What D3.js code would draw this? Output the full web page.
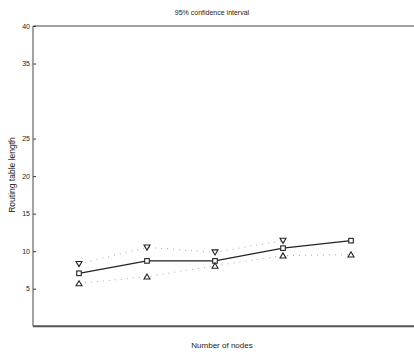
<!DOCTYPE html>
<html>
<head>
<meta charset="utf-8">
<script src="https://cdn.jsdelivr.net/npm/d3@7"></script>
<style>
  body { margin: 0; background: #fff; }
  text { font-family: "Liberation Sans", Arial, sans-serif; fill: #222; }
</style>
</head>
<body>
<svg id="chart" width="414" height="354"></svg>
<script>
// data
const nodes = [1, 2, 3, 4, 5];
const meanLen = [7.05, 8.7, 8.7, 10.4, 11.4];
const upperLen = [8.3, 10.5, 9.85, 11.4, null];
const lowerLen = [5.7, 6.6, 8.05, 9.4, 9.55];
const yTicks = [5, 10, 15, 20, 25, 35, 40];

const svg = d3.select("#chart");
const margin = { top: 24, right: 0, bottom: 28, left: 33 };
const width = 414;
const height = 354;

const x = d3.scaleLinear().domain([1, 5]).range([79, 351]);
const y = d3.scaleLinear().domain([0, 40]).range([height - margin.bottom + 0.2, margin.top + 2]);

// axes
const yAxis = d3.axisLeft(y).tickValues(yTicks).tickSize(-3).tickPadding(3);
const gy = svg.append("g")
  .attr("transform", `translate(${margin.left},0)`)
  .call(yAxis);
gy.select(".domain").remove();
gy.selectAll(".tick line").attr("stroke", "#333");
gy.selectAll(".tick text").style("font-size", "7px").attr("fill", "#333");

svg.append("line")
  .attr("x1", margin.left).attr("x2", margin.left)
  .attr("y1", y(40)).attr("y2", y(0))
  .attr("stroke", "#666").attr("stroke-width", 1.2);

svg.append("line")
  .attr("x1", margin.left).attr("x2", width)
  .attr("y1", y(0)).attr("y2", y(0))
  .attr("stroke", "#555").attr("stroke-width", 2);

svg.append("line")
  .attr("x1", margin.left).attr("x2", width)
  .attr("y1", y(40)).attr("y2", y(40))
  .attr("stroke", "#444").attr("stroke-width", 1);

// dotted bounds
const dotted = d3.line()
  .defined((d) => d[1] != null)
  .x((d) => x(d[0]))
  .y((d) => y(d[1]));

[upperLen, lowerLen].forEach((arr) => {
  svg.append("path")
    .datum(nodes.map((n, i) => [n, arr[i]]))
    .attr("d", dotted)
    .attr("fill", "none")
    .attr("stroke", "#aaa")
    .attr("stroke-width", 1)
    .attr("stroke-dasharray", "1,5");
});

// mean line
svg.append("path")
  .datum(nodes.map((n, i) => [n, meanLen[i]]))
  .attr("d", dotted)
  .attr("fill", "none")
  .attr("stroke", "#222")
  .attr("stroke-width", 1.3);

// markers
svg.append("g")
  .selectAll("rect")
  .data(nodes.map((n, i) => [n, meanLen[i]]))
  .join("rect")
  .attr("x", (d) => x(d[0]) - 2.3)
  .attr("y", (d) => y(d[1]) - 2.3)
  .attr("width", 4.6)
  .attr("height", 4.6)
  .attr("fill", "#fff")
  .attr("stroke", "#222")
  .attr("stroke-width", 1.1);

const tri = (cx, cy, down) => {
  const s = 3;
  return down
    ? `M${cx - s},${cy - s * 0.8}L${cx + s},${cy - s * 0.8}L${cx},${cy + s * 0.9}Z`
    : `M${cx - s},${cy + s * 0.8}L${cx + s},${cy + s * 0.8}L${cx},${cy - s * 0.9}Z`;
};

svg.append("g")
  .selectAll("path")
  .data(nodes.map((n, i) => [n, upperLen[i]]).filter((d) => d[1] != null))
  .join("path")
  .attr("d", (d) => tri(x(d[0]), y(d[1]), true))
  .attr("fill", "#fff")
  .attr("stroke", "#222")
  .attr("stroke-width", 1.1);

svg.append("g")
  .selectAll("path")
  .data(nodes.map((n, i) => [n, lowerLen[i]]))
  .join("path")
  .attr("d", (d) => tri(x(d[0]), y(d[1]), false))
  .attr("fill", "#fff")
  .attr("stroke", "#222")
  .attr("stroke-width", 1.1);

// labels
svg.append("text")
  .attr("x", 212).attr("y", 15)
  .attr("text-anchor", "middle")
  .style("font-size", "7px")
  .text("95% confidence interval");

svg.append("text")
  .attr("x", 222).attr("y", 348)
  .attr("text-anchor", "middle")
  .style("font-size", "8px")
  .text("Number of nodes");

svg.append("text")
  .attr("transform", "translate(15,175) rotate(-90)")
  .attr("text-anchor", "middle")
  .style("font-size", "8.5px")
  .text("Routing table length");
</script>
</body>
</html>
